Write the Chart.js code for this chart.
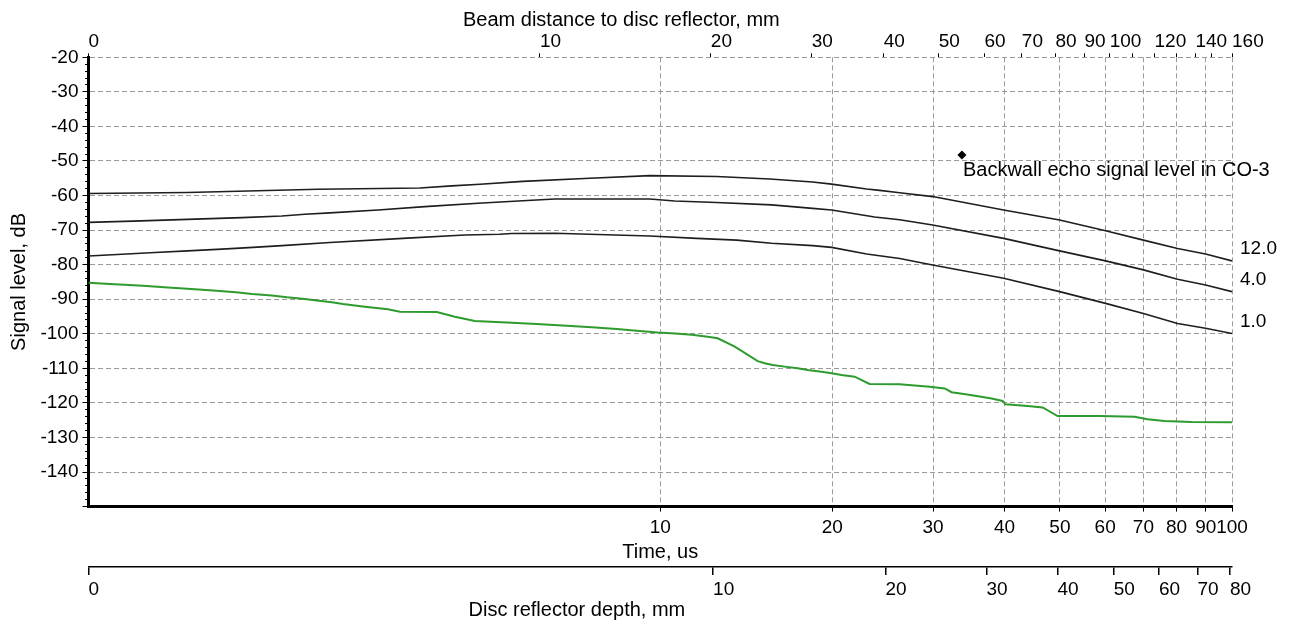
<!DOCTYPE html>
<html>
<head>
<meta charset="utf-8">
<script src="https://cdn.jsdelivr.net/npm/chart.js@4"></script>
<style>
html,body{margin:0;padding:0;background:#fff;}
#wrap{width:1289px;height:628px;position:relative;}
</style>
</head>
<body>
<div id="wrap"><canvas id="c"></canvas></div>
<script>
// ---- axis tick data ----
const timeTicks = [10, 20, 30, 40, 50, 60, 70, 80, 90, 100];
const beamTickLabels = ['0','10','20','30','40','50','60','70','80','90','100','','120','','140','','160'];
const beamTickTimes  = [1, 6.16, 12.26, 18.4, 24.6, 30.7, 36.9, 42.9, 49.1, 55.2, 61.1, 67.0, 73.2, 80.0, 86.3, 92.0, 100];
const depthTickLabels = ['0','10','20','30','40','50','60','70','80'];
const depthTickTimes  = [1, 12.37, 24.77, 37.2, 49.5, 62.1, 74.5, 87.0, 99.2];
const levelMin = -150, levelMax = -20;

// ---- series (time in us, level in dB) ----
const curve12Time  = [1, 1.49, 2.52, 3.80, 4.32, 4.84, 5.75, 7.53, 9.59, 12.55, 15.54, 18.47, 19.94, 22.96, 24.2, 26.23, 29.95, 39.86, 49.94, 60.1, 70.0, 80.3, 89.9, 100];
const curve12Level = [-59.4, -59.1, -58.2, -57.8, -57.2, -56.75, -55.9, -55.0, -54.25, -54.5, -55.2, -56.1, -56.7, -58.1, -58.5, -59.2, -60.3, -64.2, -67.1, -70.2, -72.9, -75.3, -76.9, -78.9];

const curve4Time  = [1, 1.196, 1.49, 1.856, 2.179, 2.39, 2.644, 3.21, 3.875, 4.80, 5.75, 6.54, 9.59, 10.6, 12.55, 15.66, 18.47, 19.94, 23.71, 26.23, 29.95, 39.86, 49.94, 60.1, 70.0, 80.3, 89.9, 100];
const curve4Level = [-67.75, -67.4, -66.9, -66.4, -65.9, -65.4, -65.0, -64.2, -63.2, -62.25, -61.5, -61.0, -61.0, -61.6, -62.0, -62.7, -63.7, -64.2, -66.2, -67.0, -68.5, -72.4, -76.0, -78.9, -81.5, -84.2, -85.9, -87.8];

const curve1Time  = [1, 1.144, 1.307, 1.49, 1.712, 1.94, 2.179, 2.644, 3.547, 4.55, 5.24, 5.50, 6.54, 9.59, 11.58, 13.61, 15.66, 18.47, 19.94, 22.96, 26.23, 29.95, 39.86, 49.94, 60.1, 70.0, 80.3, 89.9, 100];
const curve1Level = [-77.5, -77.0, -76.5, -76.0, -75.5, -75.0, -74.5, -73.6, -72.4, -71.4, -71.2, -71.0, -70.9, -71.7, -72.4, -72.9, -73.8, -74.5, -75.0, -76.9, -78.2, -80.1, -83.95, -87.8, -91.2, -94.1, -97.0, -98.4, -99.9];

const noiseTime  = [1, 1.09, 1.246, 1.377, 1.535, 1.651, 1.811, 1.932, 2.093, 2.224, 2.39, 2.509, 2.665, 2.786, 3.044, 3.339, 3.504, 4.067, 4.373, 4.739, 5.391, 6.083, 6.864, 7.59, 8.394, 9.096, 9.9, 10.623, 11.352, 12.108, 12.605, 13.5, 14.806, 15.229, 15.726, 16.505, 17.392, 18.105, 19.153, 19.94, 20.759, 21.874, 22.319, 23.235, 26.227, 29.59, 31.43, 32.33, 34.2, 35.75, 37.98, 39.7, 40.18, 43.9, 46.64, 49.54, 58.67, 67.53, 71.16, 76.2, 84.96, 100];
const noiseLevel = [-85.2, -85.6, -86.1, -86.6, -87.1, -87.5, -88.0, -88.5, -88.9, -89.45, -89.9, -90.4, -90.9, -91.4, -92.2, -92.9, -93.6, -93.7, -95.05, -96.3, -96.7, -97.2, -97.7, -98.1, -98.6, -99.1, -99.6, -99.9, -100.3, -100.85, -101.3, -103.7, -107.9, -108.5, -109.0, -109.5, -110.0, -110.5, -111.0, -111.4, -111.9, -112.4, -113.1, -114.5, -114.6, -115.3, -115.8, -116.9, -117.5, -118.0, -118.7, -119.45, -120.4, -120.9, -121.3, -123.8, -123.8, -124.0, -124.7, -125.2, -125.5, -125.6];

const backwallTime  = [33.7];
const backwallLevel = [-48.3];

const curveNames = ['12.0', '4.0', '1.0'];
const backwallName = 'Backwall echo signal level in CO-3';

// ---- chart ----
const FONT = "'Liberation Sans', Arial, sans-serif";
Chart.defaults.font.family = FONT;
Chart.defaults.font.size = 19;
Chart.defaults.color = '#000';
const GRID = '#9a9a9a';
const zeroPad = s => { s.paddingLeft = 0; s.paddingRight = 0; s.paddingTop = 0; s.paddingBottom = 0; };
const pts = (xs, ys) => xs.map((x, i) => ({x: x, y: ys[i]}));

const labelPlugin = {
  id: 'labels',
  afterDatasetsDraw(chart) {
    const ctx = chart.ctx;
    ctx.save();
    ctx.font = '19px ' + FONT;
    ctx.fillStyle = '#000';
    ctx.textAlign = 'left';
    ctx.textBaseline = 'middle';
    for (let i = 0; i < 3; i++) {
      const meta = chart.getDatasetMeta(i);
      const p = meta.data[meta.data.length - 1];
      ctx.fillText(curveNames[i], p.x + 8, p.y - 12);
    }
    const m = chart.getDatasetMeta(4).data[0];
    ctx.font = '20px ' + FONT;
    ctx.fillText(backwallName, m.x + 1, m.y + 15);
    ctx.restore();
  }
};

new Chart(document.getElementById('c'), {
  type: 'line',
  data: {
    datasets: [
      {label: curveNames[0], data: pts(curve12Time, curve12Level), borderColor: '#1e1e1e', borderWidth: 1.6, pointRadius: 0, tension: 0},
      {label: curveNames[1], data: pts(curve4Time, curve4Level), borderColor: '#1e1e1e', borderWidth: 1.6, pointRadius: 0, tension: 0},
      {label: curveNames[2], data: pts(curve1Time, curve1Level), borderColor: '#1e1e1e', borderWidth: 1.6, pointRadius: 0, tension: 0},
      {label: 'noise', data: pts(noiseTime, noiseLevel), borderColor: '#2e9b2e', borderWidth: 2, pointRadius: 0, tension: 0},
      {label: backwallName, data: pts(backwallTime, backwallLevel), showLine: false, pointStyle: 'rectRot', pointRadius: 4.5, backgroundColor: '#000', borderColor: '#000', borderWidth: 0}
    ]
  },
  options: {
    responsive: true,
    maintainAspectRatio: false,
    animation: false,
    events: [],
    layout: {padding: {left: 0, top: 0, right: 57, bottom: 0}},
    plugins: {legend: {display: false}, tooltip: {enabled: false}},
    scales: {
      x: {
        type: 'logarithmic', position: 'bottom', min: 1, max: 100, weight: 0,
        afterBuildTicks: s => { s.ticks = timeTicks.map(v => ({value: v})); },
        afterFit: s => { s.height = 60.4; zeroPad(s); },
        ticks: {autoSkip: false, maxRotation: 0, padding: 5, callback: v => String(v)},
        grid: {color: GRID, lineWidth: 1, tickColor: '#000', tickLength: 5, tickBorderDash: []},
        border: {display: true, color: '#000', width: 3, dash: [5, 3]},
        title: {display: true, text: 'Time, us', font: {size: 20}, padding: {top: 0, bottom: 3}}
      },
      x2: {
        type: 'logarithmic', position: 'top', min: 1, max: 100,
        afterBuildTicks: s => { s.ticks = beamTickTimes.map(v => ({value: v})); },
        afterFit: s => { s.height = 57.3; zeroPad(s); },
        ticks: {autoSkip: false, maxRotation: 0, align: 'start', padding: 0, callback: (v, i) => beamTickLabels[i]},
        grid: {drawOnChartArea: false, color: '#000', tickColor: '#000', tickLength: 4, tickBorderDash: []},
        border: {display: false},
        title: {display: true, text: 'Beam distance to disc reflector, mm' + ' '.repeat(14), font: {size: 20}, padding: {top: 8, bottom: 0}}
      },
      x3: {
        type: 'logarithmic', position: 'bottom', min: 1, max: 100, weight: 1,
        afterBuildTicks: s => { s.ticks = depthTickTimes.map(v => ({value: v})); },
        afterFit: s => { s.height = 61; zeroPad(s); },
        ticks: {autoSkip: false, maxRotation: 0, align: 'start', padding: 3, callback: (v, i) => depthTickLabels[i]},
        grid: {drawOnChartArea: false, color: '#000', lineWidth: 1.5, tickColor: '#000', tickLength: 8, tickBorderDash: []},
        border: {display: true, color: '#000', width: 1.5},
        title: {display: true, text: 'Disc reflector depth, mm' + ' '.repeat(30), font: {size: 20}, padding: {top: 0, bottom: 6}}
      },
      y: {
        type: 'linear', position: 'left', min: levelMin, max: levelMax,
        afterBuildTicks: s => { const t = []; for (let v = levelMin; v <= levelMax; v += 2) t.push({value: v}); s.ticks = t; },
        afterFit: s => { s.width = 88.5; zeroPad(s); },
        ticks: {autoSkip: false, padding: 4, callback: v => (v % 10 === 0 && v > levelMin) ? String(v) : ''},
        grid: {
          color: c => (c.tick && c.tick.value % 10 === 0) ? GRID : 'rgba(0,0,0,0)',
          tickColor: '#000', tickLength: 6,
          tickBorderDash: c => (c.tick && c.tick.value % 10 === 0) ? [] : [0, 2.5, 2, 10]
        },
        border: {display: true, color: '#000', width: 3, dash: [5, 3]},
        title: {display: true, text: 'Signal level, dB', font: {size: 20}, padding: {top: 7, bottom: 0}}
      }
    }
  },
  plugins: [labelPlugin]
});
</script>
</body>
</html>
